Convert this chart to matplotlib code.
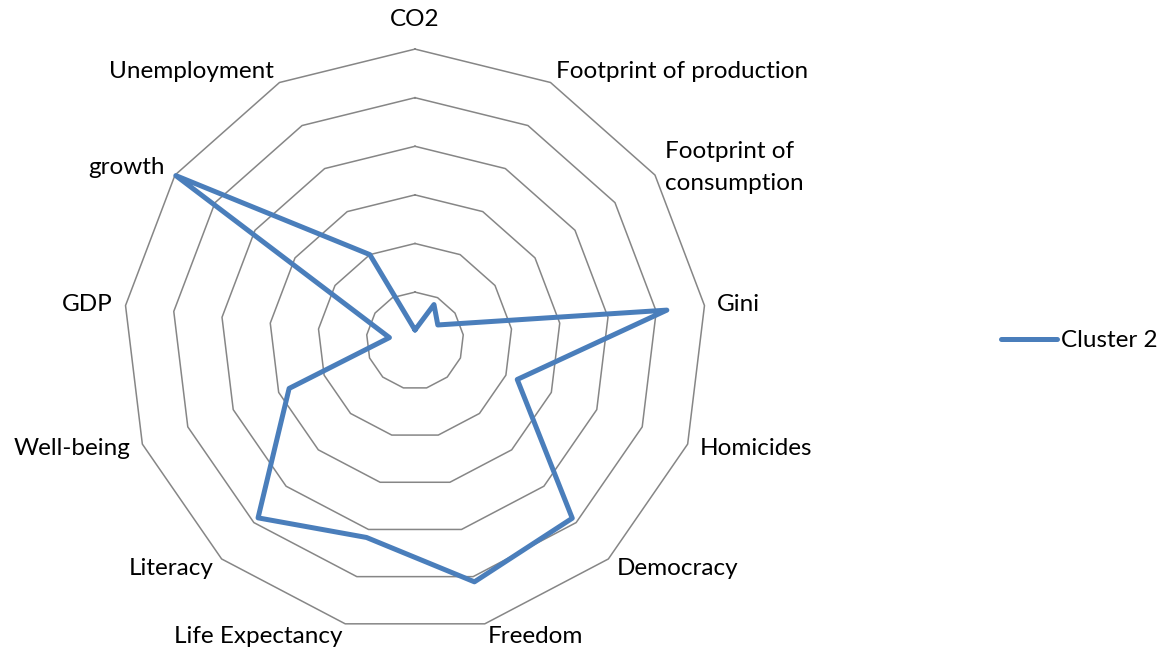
import numpy as np
import matplotlib
matplotlib.use("Agg")
import matplotlib.pyplot as plt

# categories, clockwise from the top
categories = ["CO2", "Footprint of production", "Footprint of\nconsumption", "Gini",
              "Homicides", "Democracy", "Freedom", "Life Expectancy", "Literacy",
              "Well-being", "GDP", "growth", "Unemployment"]
cluster2 = [0.22, 0.84, 0.57, 5.22, 2.25, 4.88, 5.11, 4.17, 4.87, 2.77, 0.53, 5.98, 2.0]
rings = [1, 2, 3, 4, 5, 6]
series_name = "Cluster 2"

plt.rcParams["font.family"] = ["Lato", "DejaVu Sans"]
fs = 17.5

fig = plt.figure(figsize=(11.61, 6.49), dpi=100)
rmax = 6.3
unit = 48.6  # px per unit
cx, cy = 415, 340.7
half = rmax * unit
ax = fig.add_axes([(cx - half) / 1161, (649 - cy - half) / 649, 2 * half / 1161, 2 * half / 649],
                  projection="polar")
ax.set_theta_offset(np.pi / 2)
ax.set_theta_direction(-1)
ax.set_ylim(0, rmax)
ax.grid(False)
ax.set_xticks([])
ax.set_yticks([])
ax.spines["polar"].set_visible(False)
ax.patch.set_visible(False)

n = len(categories)
angles = np.arange(n) * 2 * np.pi / n
closed = np.append(angles, angles[0])

for r in rings:
    ax.plot(closed, [r] * (n + 1), color="#868686", lw=1.1, clip_on=False, zorder=1)

vals = np.append(cluster2, cluster2[0])
line, = ax.plot(closed, vals, color="#4A7EBB", lw=3.6, solid_joinstyle="round",
                solid_capstyle="round", clip_on=False, zorder=3, label=series_name)

label_r = 6.26
for a, lab in zip(angles, categories):
    c = np.sin(a)  # horizontal component (clockwise from top)
    if abs(c) < 0.05:
        ax.text(a, 6.6, lab, ha="center", va="center", fontsize=fs)
    else:
        ha = "left" if c > 0 else "right"
        ax.text(a, label_r, lab, ha=ha, va="center", fontsize=fs, linespacing=1.65)

fig.legend(handles=[line], loc="center left", bbox_to_anchor=(1001 / 1161, 1 - 340.7 / 649),
           frameon=False, fontsize=fs, handlelength=2.3, handletextpad=0.17,
           borderpad=0, borderaxespad=0)

fig.savefig("out.png", dpi=100)
